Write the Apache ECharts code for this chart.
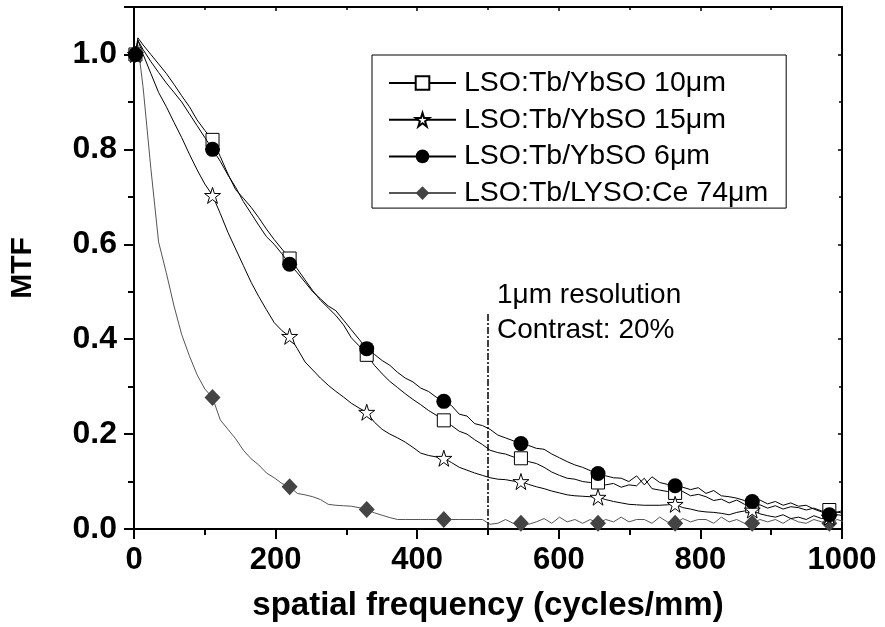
<!DOCTYPE html>
<html><head><meta charset="utf-8">
<script src="https://cdn.jsdelivr.net/npm/echarts@6/dist/echarts.min.js"></script>
<style>html,body{margin:0;padding:0;background:#fff}#c{width:885px;height:627px}</style>
</head><body><div id="c"></div>
<script>
// spatial frequency (cycles/mm)
const freq = [2, 5.5,
 12.9, 23.8, 34.7, 45.6, 56.5, 67.3, 78.2, 89.1, 100, 110.9,
 121.8, 132.7, 143.6, 154.5, 165.4, 176.2, 187.1, 198, 208.9, 219.8,
 230.7, 241.6, 252.5, 263.4, 274.3, 285.1, 296, 306.9, 317.8, 328.7,
 339.6, 350.5, 361.4, 372.3, 383.2, 394, 404.9, 415.8, 426.7, 437.6,
 448.5, 459.4, 470.3, 481.2, 492.1, 502.9, 513.8, 524.7, 535.6, 546.5,
 557.4, 568.3, 579.2, 590.1, 601, 611.8, 622.7, 633.6, 644.5, 655.4,
 666.3, 677.2, 688.1, 699, 709.9, 720.7, 731.6, 742.5, 753.4, 764.3,
 775.2, 786.1, 797, 807.9, 818.8, 829.6, 840.5, 851.4, 862.3, 873.2,
 884.1, 895, 905.9, 916.8, 927.7, 938.5, 949.4, 960.3, 971.2, 982.1,
 993, 1003.9];
// frequencies at which symbols are drawn
const markerFreq = [2, 110.9, 219.8, 328.7, 437.6, 546.5, 655.4, 764.3, 873.2, 982.1];

const mtf10um = [1.0, 1.035,
 1.02, 1.0, 0.98, 0.96, 0.937, 0.913, 0.89, 0.862, 0.84, 0.82,
 0.785, 0.748, 0.715, 0.697, 0.678, 0.656, 0.632, 0.61, 0.59, 0.57,
 0.548, 0.525, 0.502, 0.482, 0.466, 0.45, 0.43, 0.403, 0.386, 0.367,
 0.345, 0.327, 0.311, 0.298, 0.285, 0.273, 0.262, 0.25, 0.24, 0.229,
 0.218, 0.206, 0.2, 0.188, 0.178, 0.166, 0.161, 0.158, 0.152, 0.149,
 0.142, 0.138, 0.13, 0.12, 0.113, 0.107, 0.105, 0.1, 0.098, 0.098,
 0.093, 0.096, 0.088, 0.093, 0.091, 0.107, 0.085, 0.082, 0.079, 0.076,
 0.079, 0.07, 0.073, 0.068, 0.06, 0.063, 0.055, 0.061, 0.052, 0.048,
 0.051, 0.044, 0.049, 0.042, 0.047, 0.045, 0.04, 0.044, 0.038, 0.04,
 0.035, 0.041];

const mtf15um = [1.0, 1.03,
 1.0, 0.96, 0.92, 0.89, 0.857, 0.825, 0.79, 0.757, 0.727, 0.703,
 0.665, 0.625, 0.59, 0.555, 0.52, 0.49, 0.462, 0.435, 0.418, 0.406,
 0.38, 0.352, 0.335, 0.318, 0.303, 0.29, 0.278, 0.265, 0.255, 0.246,
 0.225, 0.21, 0.2, 0.192, 0.183, 0.172, 0.16, 0.155, 0.152, 0.149,
 0.14, 0.13, 0.124, 0.118, 0.113, 0.108, 0.105, 0.104, 0.101, 0.1,
 0.094, 0.089, 0.085, 0.08, 0.076, 0.072, 0.07, 0.069, 0.068, 0.067,
 0.062, 0.058, 0.055, 0.052, 0.051, 0.05, 0.05, 0.05, 0.051, 0.052,
 0.045, 0.042, 0.038, 0.036, 0.035, 0.033, 0.03, 0.035, 0.038, 0.04,
 0.032, 0.028, 0.025, 0.03, 0.022, 0.025, 0.02, 0.028, 0.022, 0.025,
 0.03, 0.028];

const mtf6um = [1.0, 1.03,
 1.01, 0.985, 0.962, 0.94, 0.92, 0.9, 0.875, 0.85, 0.825, 0.80,
 0.775, 0.746, 0.72, 0.69, 0.665, 0.64, 0.616, 0.6, 0.58, 0.558,
 0.54, 0.52, 0.5, 0.485, 0.47, 0.46, 0.44, 0.42, 0.4, 0.38,
 0.368, 0.355, 0.345, 0.33, 0.318, 0.31, 0.297, 0.29, 0.278, 0.269,
 0.26, 0.242, 0.238, 0.222, 0.218, 0.21, 0.198, 0.192, 0.186, 0.18,
 0.176, 0.17, 0.168, 0.158, 0.15, 0.142, 0.135, 0.13, 0.123, 0.117,
 0.112, 0.108, 0.107, 0.1, 0.112, 0.093, 0.11, 0.098, 0.094, 0.091,
 0.088, 0.083, 0.087, 0.075, 0.081, 0.07, 0.068, 0.065, 0.06, 0.058,
 0.061, 0.053, 0.058, 0.05, 0.055, 0.048, 0.05, 0.042, 0.036, 0.03,
 0.036, 0.032];

const mtf74um = [1.0, 1.02,
 0.93, 0.76, 0.605, 0.54, 0.47, 0.41, 0.365, 0.325, 0.295, 0.277,
 0.23, 0.21, 0.19, 0.166, 0.148, 0.135, 0.118, 0.108, 0.096, 0.089,
 0.075, 0.072, 0.068, 0.062, 0.052, 0.05, 0.049, 0.048, 0.045, 0.041,
 0.034, 0.029, 0.024, 0.02, 0.02, 0.02, 0.02, 0.02, 0.02, 0.02,
 0.02, 0.02, 0.02, 0.02, 0.02, 0.01, 0.012, 0.02, 0.012, 0.012,
 0.01, 0.015, 0.022, 0.012, 0.025, 0.015, 0.02, 0.012, 0.02, 0.012,
 0.02, 0.015, 0.025, 0.015, 0.02, 0.02, 0.012, 0.025, 0.015, 0.012,
 0.022, 0.015, 0.02, 0.02, 0.012, 0.025, 0.015, 0.02, 0.012, 0.012,
 0.02, 0.015, 0.02, 0.012, 0.022, 0.015, 0.012, 0.02, 0.015, 0.012,
 0.02, 0.015];

const seriesNames = ['LSO:Tb/YbSO 10\u03bcm', 'LSO:Tb/YbSO 15\u03bcm', 'LSO:Tb/YbSO 6\u03bcm', 'LSO:Tb/LYSO:Ce 74\u03bcm'];
const xTickLabels = [0, 200, 400, 600, 800, 1000];
const yTickLabels = [0.0, 0.2, 0.4, 0.6, 0.8, 1.0];
const resolutionLimit = [500, 0.455]; // 1 μm resolution marker (x, top y)
const annotationText = ['1\u03bcm resolution', 'Contrast: 20%'];

const FONT = "'Liberation Sans', Arial, Helvetica, sans-serif";
const STAR = 'path://M50,2 L61.2,36.6 L97.6,36.6 L68.2,58 L79.4,92.6 L50,71.2 L20.6,92.6 L31.8,58 L2.4,36.6 L38.8,36.6 Z';

function build(vals) {
  return freq.map((f, i) => markerFreq.indexOf(f) >= 0
    ? { value: [f, vals[i]] }
    : { value: [f, vals[i]], symbol: 'none' });
}

const chart = echarts.init(document.getElementById('c'), null, { renderer: 'canvas' });

const axisCommon = {
  type: 'value',
  splitLine: { show: false },
  axisLine: { show: true, onZero: false, lineStyle: { color: '#000', width: 2 } },
};

chart.setOption({
  animation: false,
  backgroundColor: '#fff',
  grid: { left: 130, right: 43, top: 7, bottom: 96, containLabel: false },
  legend: {
    orient: 'vertical',
    left: 372, top: 55,
    padding: [13, 18, 0, 16],
    itemGap: 6.7,
    itemWidth: 67, itemHeight: 17,
    borderColor: '#000', borderWidth: 1, borderRadius: 0,
    backgroundColor: '#fff',
    textStyle: { fontFamily: FONT, fontSize: 28.5, color: '#000', lineHeight: 30, padding: [0, 0, 0, 3] },
    data: seriesNames,
    selectedMode: false
  },
  xAxis: [
    Object.assign({}, axisCommon, {
      position: 'bottom',
      min: 0, max: 1000, interval: 200,
      name: 'spatial frequency (cycles/mm)', nameLocation: 'middle', nameGap: 60,
      nameTextStyle: { fontFamily: FONT, fontWeight: 'bold', fontSize: 33, color: '#000' },
      axisTick: { show: true, inside: false, length: 10, lineStyle: { color: '#000', width: 2 } },
      minorTick: { show: true, splitNumber: 2, length: 6, lineStyle: { color: '#000', width: 2 } },
      axisLabel: { fontFamily: FONT, fontWeight: 'bold', fontSize: 31, color: '#000', margin: 16,
        formatter: v => (xTickLabels.indexOf(v) >= 0 ? String(v) : '') }
    }),
    Object.assign({}, axisCommon, {
      position: 'top',
      min: 0, max: 1000, interval: 200,
      axisTick: { show: true, inside: true, length: 4, lineStyle: { color: '#000', width: 1.5 } },
      minorTick: { show: true, splitNumber: 2, length: 3, lineStyle: { color: '#000', width: 1.5 } },
      axisLabel: { show: false }
    })
  ],
  yAxis: [
    Object.assign({}, axisCommon, {
      position: 'left',
      min: 0, max: 1.1, interval: 0.2,
      name: 'MTF', nameLocation: 'middle', nameGap: 96, nameRotate: 90,
      nameTextStyle: { fontFamily: FONT, fontWeight: 'bold', fontSize: 30, color: '#000' },
      axisTick: { show: true, inside: false, length: 10, lineStyle: { color: '#000', width: 2 } },
      minorTick: { show: true, splitNumber: 2, length: 6, lineStyle: { color: '#000', width: 2 } },
      axisLabel: { fontFamily: FONT, fontWeight: 'bold', fontSize: 32, color: '#000', margin: 17,
        formatter: v => { const m = yTickLabels.find(t => Math.abs(t - v) < 1e-6); return m === undefined ? '' : m.toFixed(1); } }
    }),
    Object.assign({}, axisCommon, {
      position: 'right',
      min: 0, max: 1.1, interval: 0.2,
      axisTick: { show: true, inside: true, length: 4, lineStyle: { color: '#000', width: 1.5 } },
      minorTick: { show: true, splitNumber: 2, length: 3, lineStyle: { color: '#000', width: 1.5 } },
      axisLabel: { show: false }
    })
  ],
  series: [
    {
      name: seriesNames[0], type: 'line', data: build(mtf10um),
      symbol: 'rect', symbolSize: 13, showSymbol: true,
      lineStyle: { color: '#000', width: 1 },
      itemStyle: { color: '#fff', borderColor: '#000', borderWidth: 1 },
      emphasis: { disabled: true }, z: 3,
      markLine: {
        silent: true, symbol: ['none', 'none'], label: { show: false },
        lineStyle: { color: '#000', width: 1.5, type: [7, 2, 2, 2] },
        data: [[{ coord: [resolutionLimit[0], 0] }, { coord: [resolutionLimit[0], resolutionLimit[1]] }]]
      }
    },
    {
      name: seriesNames[1], type: 'line', data: build(mtf15um),
      symbol: STAR, symbolSize: 16, showSymbol: true,
      lineStyle: { color: '#000', width: 1 },
      itemStyle: { color: '#fff', borderColor: '#000', borderWidth: 1 },
      emphasis: { disabled: true }, z: 3
    },
    {
      name: seriesNames[2], type: 'line', data: build(mtf6um),
      symbol: 'circle', symbolSize: 15, showSymbol: true,
      lineStyle: { color: '#000', width: 1 },
      itemStyle: { color: '#000', borderColor: '#000', borderWidth: 0 },
      emphasis: { disabled: true }, z: 4
    },
    {
      name: seriesNames[3], type: 'line', data: build(mtf74um),
      symbol: 'diamond', symbolSize: [16, 17], showSymbol: true,
      lineStyle: { color: '#555', width: 1 },
      itemStyle: { color: '#444', borderWidth: 0 },
      emphasis: { disabled: true }, z: 2
    }
  ],
  graphic: [{
    type: 'text', left: 497, top: 278, silent: true,
    style: { text: annotationText.join('\n'), fontFamily: FONT, fontSize: 28, lineHeight: 35, fill: '#000' }
  }]
});
</script></body></html>
